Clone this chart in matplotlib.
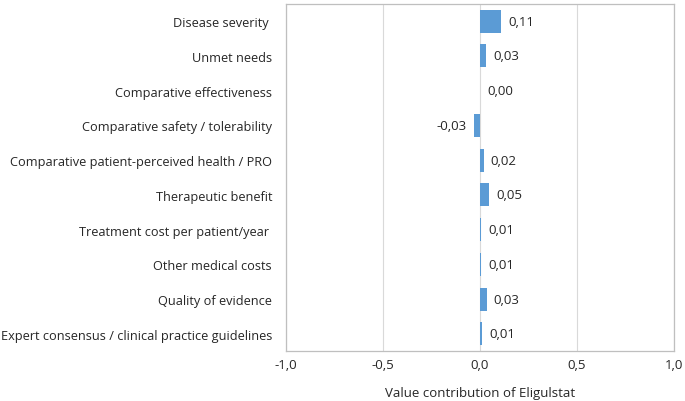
import matplotlib
matplotlib.use("Agg")
import matplotlib.pyplot as plt
from matplotlib.ticker import FuncFormatter

categories = [
    "Disease severity ",
    "Unmet needs",
    "Comparative effectiveness",
    "Comparative safety / tolerability",
    "Comparative patient-perceived health / PRO",
    "Therapeutic benefit",
    "Treatment cost per patient/year ",
    "Other medical costs",
    "Quality of evidence",
    "Expert consensus / clinical practice guidelines",
]
values = [0.11, 0.03, 0.00, -0.03, 0.02, 0.05, 0.01, 0.01, 0.03, 0.01]
# bar lengths as drawn (values are rounded labels)
bar_values = [0.108, 0.032, 0.0, -0.032, 0.018, 0.048, 0.006, 0.006, 0.034, 0.012]
x_ticks = [-1.0, -0.5, 0.0, 0.5, 1.0]
xlabel = "Value contribution of Eligulstat"

plt.rcParams['font.family'] = ['Open Sans', 'DejaVu Sans']

fig = plt.figure(figsize=(6.85, 4.02), dpi=100)
ax = fig.add_axes([0.4175, 0.124, 0.984 - 0.4175, 0.988 - 0.124])

y = list(range(len(categories)))
ax.barh(y, bar_values, height=0.66, color="#5B9BD5", zorder=3)
ax.set_ylim(len(categories) - 0.5, -0.5)
ax.set_xlim(-1.0, 1.0)
ax.set_yticks(y)
ax.set_yticklabels(categories, fontsize=9.2, color="#262626")
ax.set_xticks(x_ticks)
ax.xaxis.set_major_formatter(FuncFormatter(lambda v, p: f"{v:.1f}".replace(".", ",")))
ax.tick_params(axis='x', labelsize=9.5, colors="#262626", length=0, pad=5)
ax.tick_params(axis='y', length=0, pad=10)
ax.grid(axis='x', color="#D9D9D9", linewidth=0.8, zorder=0)
for s in ax.spines.values():
    s.set_color("#BFBFBF")
    s.set_linewidth(0.9)

for yi, v, bv in zip(y, values, bar_values):
    txt = f"{v:.2f}".replace(".", ",")
    if v < 0:
        ax.annotate(txt, (bv, yi), xytext=(-5, 0), textcoords="offset points",
                    ha="right", va="center", fontsize=9.5, color="#262626")
    else:
        ax.annotate(txt, (bv, yi), xytext=(5, 0), textcoords="offset points",
                    ha="left", va="center", fontsize=9.5, color="#262626")

ax.set_xlabel(xlabel, fontsize=9.5, color="#262626", labelpad=11)
fig.savefig("out.png", dpi=100)
